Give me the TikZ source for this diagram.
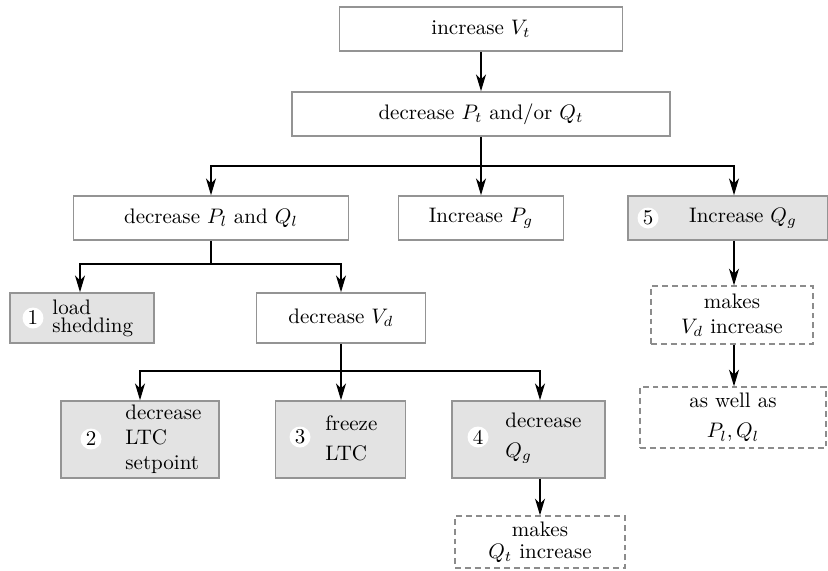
\documentclass[tikz,border=0pt]{standalone}
\usetikzlibrary{arrows.meta}
\begin{document}
\begin{tikzpicture}[x=0.4762pt,y=-0.4762pt,
  every node/.style={font=\fontsize{10}{12}\selectfont},
  wh/.style 2 args={minimum width=#1*0.4762pt,minimum height=#2*0.4762pt},
  box/.style={draw=black!42,line width=0.8pt,inner sep=0pt,align=center},
  greybox/.style={box,fill=black!11},
  dbox/.style={draw=black!45,line width=0.65pt,dash pattern=on 2.8pt off 1.9pt,inner sep=0pt,align=center},
  num/.style={circle,fill=white,inner sep=0pt,minimum size=10pt},
  txt/.style={anchor=west,align=left,inner sep=0pt},
  link/.style={line width=0.55pt,black},
  arr/.style={link,-{Stealth[length=8pt,width=4.8pt,inset=2.4pt]}}]
\useasboundingbox (0,0) rectangle (828,570);

% top boxes
\node[box,wh={283}{44}] (vt) at (481,29) {increase $V_t$};
\node[box,wh={378}{44}] (pq) at (481,114) {decrease $P_t$ and/or $Q_t$};
\node[box,wh={275}{44}] (pl) at (211,218) {decrease $P_l$ and $Q_l$};
\node[box,wh={165}{44}] (pg) at (481,218) {Increase $P_g$};
\node[greybox,wh={200}{44}] (qg) at (728,218) {};
\node[num] (n5) at (648,218) {5};
\node (t5) at (743,218) {Increase $Q_g$};

% second level
\node[greybox,wh={144}{50}] (ls) at (82,318) {};
\node[num] (n1) at (33,318) {1};
\node[txt] (t1) at (52,318) {load\\[-3.4pt]shedding};
\node[box,wh={169}{50}] (vd) at (341,318) {decrease $V_d$};

% third level
\node[greybox,wh={158}{77}] (b2) at (140,439.5) {};
\node[num] (n2) at (91,439) {2};
\node[txt] (t2) at (125,439) {decrease\\LTC\\setpoint};
\node[greybox,wh={130}{77}] (b3) at (340.5,439.5) {};
\node[num] (n3) at (300,437) {3};
\node[txt] (t3) at (325,438) {freeze\\[2.4pt]LTC};
\node[greybox,wh={153}{77}] (b4) at (528.5,439.5) {};
\node[num] (n4) at (478,437) {4};
\node[txt] (t4) at (505,438) {decrease\\[2.4pt]$Q_g$};

% dashed boxes
\node[dbox,wh={162}{58}] (mv) at (732,315) {makes\\$V_d$ increase};
\node[dbox,wh={186}{61}] (aw) at (733,417.5) {as well as\\[2.4pt]$P_l,Q_l$};
\node[dbox,wh={170}{52}] (mq) at (540,542) {makes\\[-1.5pt]$Q_t$ increase};

% column coordinates for off-centre arrows
\coordinate (c4) at (540,0);
\coordinate (c5) at (734,0);
\coordinate (c1) at (80,0);

% connectors
\draw[arr] (vt) -- (pq);
\coordinate (j1) at (481,166);
\draw[link] (pq.south) -- (j1);
\draw[arr] (j1) -| (pl.north);
\draw[arr] (j1) -- (pg.north);
\draw[arr] (j1) -| (qg.north -| c5);

\coordinate (j2) at (211,264);
\draw[link] (pl.south) -- (j2);
\draw[arr] (j2) -| (ls.north -| c1);
\draw[arr] (j2) -| (vd.north);

\coordinate (j3) at (341,371);
\draw[link] (vd.south) -- (j3);
\draw[arr] (j3) -| (b2.north);
\draw[arr] (j3) -- (b3.north -| j3);
\draw[arr] (j3) -| (b4.north -| c4);

\draw[arr] (b4.south -| c4) -- (mq.north -| c4);
\draw[arr] (qg.south -| c5) -- (mv.north -| c5);
\draw[arr] (mv.south -| c5) -- (aw.north -| c5);
\end{tikzpicture}
\end{document}
